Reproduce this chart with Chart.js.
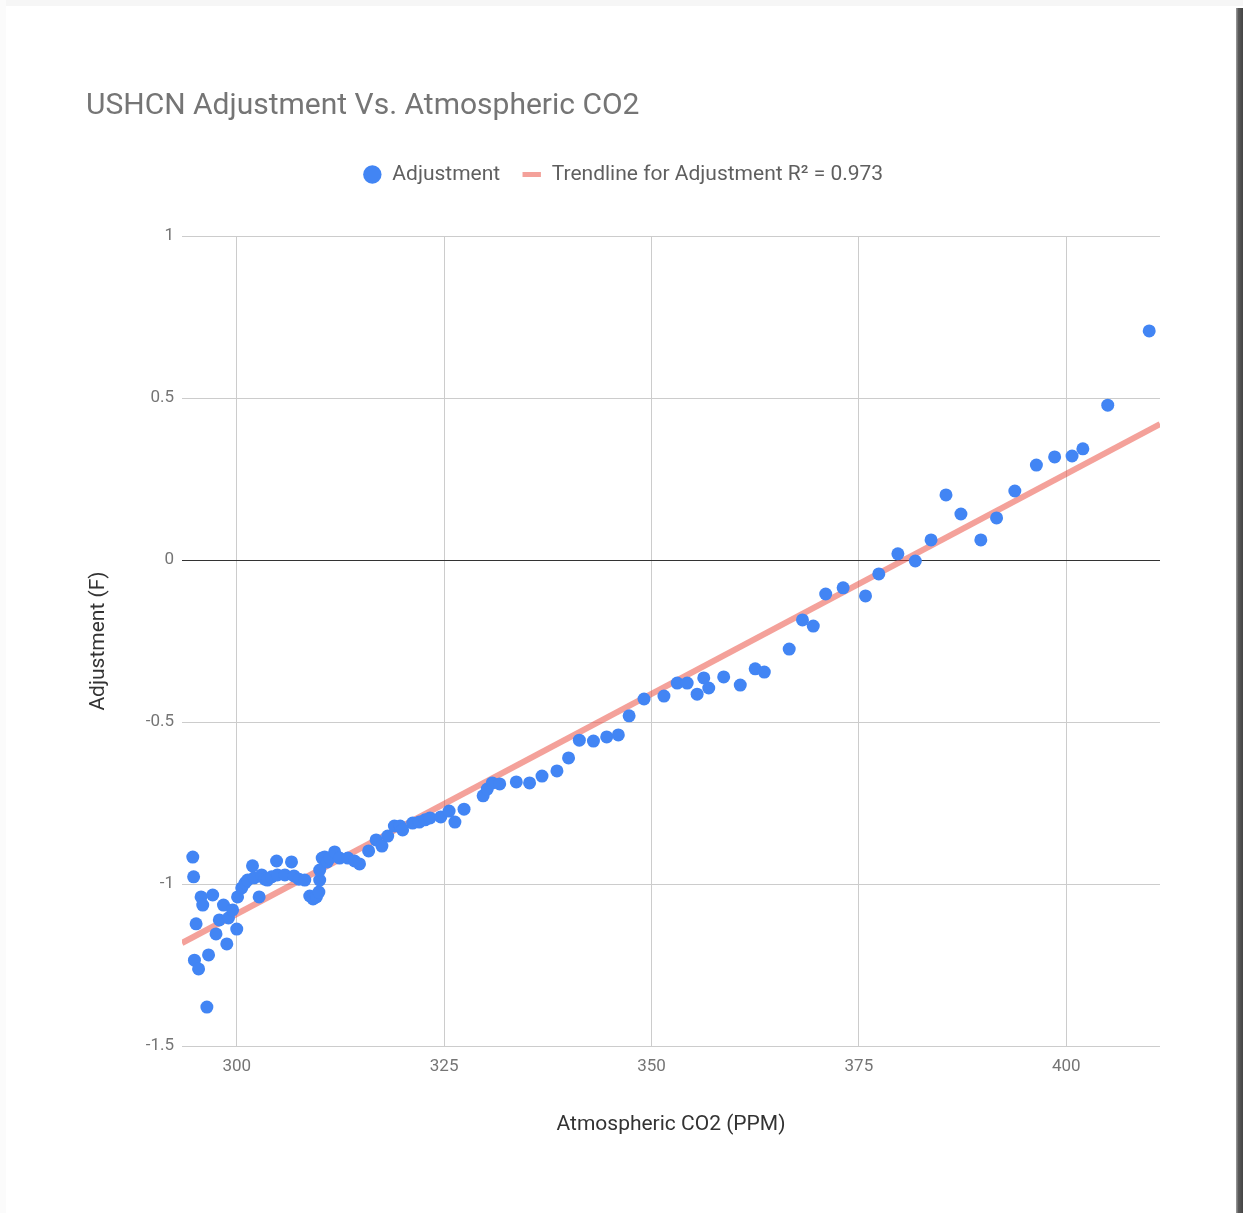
<!DOCTYPE html>
<html>
<head>
<meta charset="utf-8">
<script src="https://cdn.jsdelivr.net/npm/chart.js@4.4.1/dist/chart.umd.min.js"></script>
<style>
    html, body { margin: 0; padding: 0; background: #fff; }
    #wrap { position: absolute; left: 0; top: 0; width: 1243px; height: 1213px; }
    #topEdge { position: absolute; left: 0; top: 0; width: 1243px; height: 6px; background: #f6f6f6; }
    #leftEdge { position: absolute; left: 0; top: 0; width: 6px; height: 1213px; background: #fbfbfb; }
    #shadow { position: absolute; left: 1236px; top: 8px; width: 7px; height: 1205px;
        background: linear-gradient(to right, #a0a0a0, #5a5a5a 35%, #444); }
</style>
</head>
<body>
<div id="topEdge"></div>
<div id="leftEdge"></div>
<div id="wrap"><canvas id="chart"></canvas></div>
<div id="shadow"></div>
<script>
const co2 = [294.7, 294.8, 294.9, 295.1, 295.4, 295.7, 295.9, 296.4, 296.6, 297.1,
    297.5, 297.9, 298.4, 298.8, 299.0, 299.5, 300.0, 300.1, 300.6, 301.0,
    301.3, 301.9, 302.1, 302.7, 303.0, 303.4, 303.7, 304.2, 304.8, 304.9,
    305.8, 306.6, 306.9, 307.5, 308.2, 308.8, 309.2, 309.6, 309.9, 310.0,
    310.0, 310.3, 310.6, 310.9, 311.2, 311.8, 312.4, 313.4, 314.2, 314.8,
    315.9, 316.8, 317.5, 318.2, 319.0, 319.7, 320.0, 321.2, 322.0, 322.7,
    323.3, 324.6, 325.6, 326.3, 327.4, 329.7, 330.2, 330.8, 331.7, 333.7,
    335.3, 336.8, 338.6, 340.0, 341.3, 343.0, 344.6, 346.0, 347.3, 349.1,
    351.5, 353.1, 354.3, 355.5, 356.3, 356.9, 358.7, 360.7, 362.5, 363.6,
    366.6, 368.2, 369.5, 371.0, 373.1, 375.8, 377.4, 379.7, 381.8, 383.7,
    385.5, 387.3, 389.7, 391.6, 393.8, 396.4, 398.6, 400.7, 402.0, 405.0,
    410.0];

const adjustment = [-0.917, -0.978, -1.235, -1.123, -1.262, -1.040, -1.065, -1.380, -1.219, -1.034,
    -1.154, -1.111, -1.065, -1.185, -1.105, -1.080, -1.139, -1.040, -1.012, -0.997,
    -0.988, -0.944, -0.981, -1.040, -0.972, -0.985, -0.988, -0.978, -0.929, -0.972,
    -0.972, -0.932, -0.975, -0.985, -0.988, -1.037, -1.046, -1.040, -1.025, -0.988,
    -0.957, -0.920, -0.917, -0.932, -0.920, -0.901, -0.920, -0.920, -0.929, -0.938,
    -0.898, -0.864, -0.883, -0.852, -0.821, -0.821, -0.833, -0.812, -0.809, -0.802,
    -0.796, -0.793, -0.775, -0.809, -0.769, -0.728, -0.707, -0.688, -0.691, -0.685,
    -0.688, -0.667, -0.651, -0.611, -0.556, -0.559, -0.546, -0.540, -0.481, -0.429,
    -0.420, -0.380, -0.380, -0.414, -0.364, -0.395, -0.361, -0.386, -0.336, -0.346,
    -0.275, -0.185, -0.204, -0.105, -0.086, -0.111, -0.043, 0.019, -0.003, 0.062,
    0.201, 0.142, 0.062, 0.130, 0.213, 0.293, 0.318, 0.321, 0.343, 0.478,
    0.707];

const xTicks = [300, 325, 350, 375, 400];
const xMin = 293.4;
const xMax = 411.3;
const yTicks = [-1.5, -1, -0.5, 0, 0.5, 1];

const BLUE = "#4285f4";
const PINK = "rgba(234, 67, 53, 0.5)";

// least squares trendline over the points
const n = co2.length;
const mx = co2.reduce((a, b) => a + b, 0) / n;
const my = adjustment.reduce((a, b) => a + b, 0) / n;
let sxy = 0, sxx = 0;
for (let i = 0; i < n; i++) {
    sxy += (co2[i] - mx) * (adjustment[i] - my);
    sxx += (co2[i] - mx) * (co2[i] - mx);
}
const slope = sxy / sxx;
const intercept = my - slope * mx;

const points = co2.map((x, i) => ({ x: x, y: adjustment[i] }));
const trend = [xMin, xMax].map(x => ({ x: x, y: intercept + slope * x }));

const ctx = document.getElementById("chart").getContext("2d");
new Chart(ctx, {
    type: "scatter",
    data: {
        datasets: [
            {
                label: "Adjustment",
                data: points,
                backgroundColor: BLUE,
                borderColor: BLUE,
                borderWidth: 0,
                pointRadius: 6.5,
                pointHoverRadius: 6.5
            },
            {
                label: "Trendline for Adjustment R² = 0.973",
                type: "line",
                data: trend,
                showLine: true,
                borderColor: PINK,
                borderWidth: 6,
                pointRadius: 0,
                fill: false
            }
        ]
    },
    options: {
        responsive: true,
        maintainAspectRatio: false,
        animation: false,
        layout: { padding: { left: 86, right: 83, top: 88, bottom: 72 } },
        font: { family: "Roboto" },
        plugins: {
            title: {
                display: true,
                text: "USHCN Adjustment Vs. Atmospheric CO2",
                align: "start",
                color: "#757575",
                font: { family: "Roboto", size: 30, weight: "normal" },
                padding: { top: 0, bottom: 18 }
            },
            legend: {
                position: "top",
                labels: {
                    usePointStyle: true,
                    boxHeight: 13,
                    boxWidth: 19,
                    padding: 22,
                    color: "#5f5f5f",
                    font: { family: "Roboto", size: 21 },
                    generateLabels: () => [
                        { text: "Adjustment", fillStyle: BLUE, strokeStyle: BLUE, lineWidth: 0,
                          pointStyle: "circle", datasetIndex: 0, fontColor: "#5f5f5f" },
                        { text: "Trendline for Adjustment R² = 0.973", fillStyle: PINK, strokeStyle: PINK,
                          lineWidth: 5, pointStyle: "line", datasetIndex: 1, fontColor: "#5f5f5f" }
                    ]
                }
            },
            tooltip: { enabled: false }
        },
        scales: {
            x: {
                type: "linear",
                min: xMin,
                max: xMax,
                afterBuildTicks: s => { s.ticks = xTicks.map(v => ({ value: v })); },
                afterFit: s => { s.height = 95; },
                grid: { color: "#cccccc", drawTicks: false },
                border: { display: false },
                ticks: { color: "#757575", padding: 11, font: { family: "Roboto", size: 17 } },
                title: {
                    display: true,
                    text: "Atmospheric CO2 (PPM)",
                    color: "#333333",
                    font: { family: "Roboto", size: 21 },
                    padding: { top: 4, bottom: 4 }
                }
            },
            spacer: {
                type: "linear",
                position: "top",
                display: true,
                grid: { display: false, drawTicks: false },
                border: { display: false },
                ticks: { display: false },
                afterFit: s => { s.height = 41; }
            },
            y: {
                type: "linear",
                min: -1.5,
                max: 1,
                afterBuildTicks: s => { s.ticks = yTicks.map(v => ({ value: v })); },
                afterFit: s => { s.width = 96; },
                grid: {
                    color: c => (c.tick && c.tick.value === 0 ? "#333333" : "#cccccc"),
                    drawTicks: false
                },
                border: { display: false },
                ticks: {
                    color: "#757575",
                    padding: 8,
                    font: { family: "Roboto", size: 17 },
                    callback: v => String(v)
                },
                title: {
                    display: true,
                    text: "Adjustment (F)",
                    color: "#333333",
                    font: { family: "Roboto", size: 21 },
                    padding: { top: 0, bottom: 0 }
                }
            }
        }
    }
});
</script>
</body>
</html>
